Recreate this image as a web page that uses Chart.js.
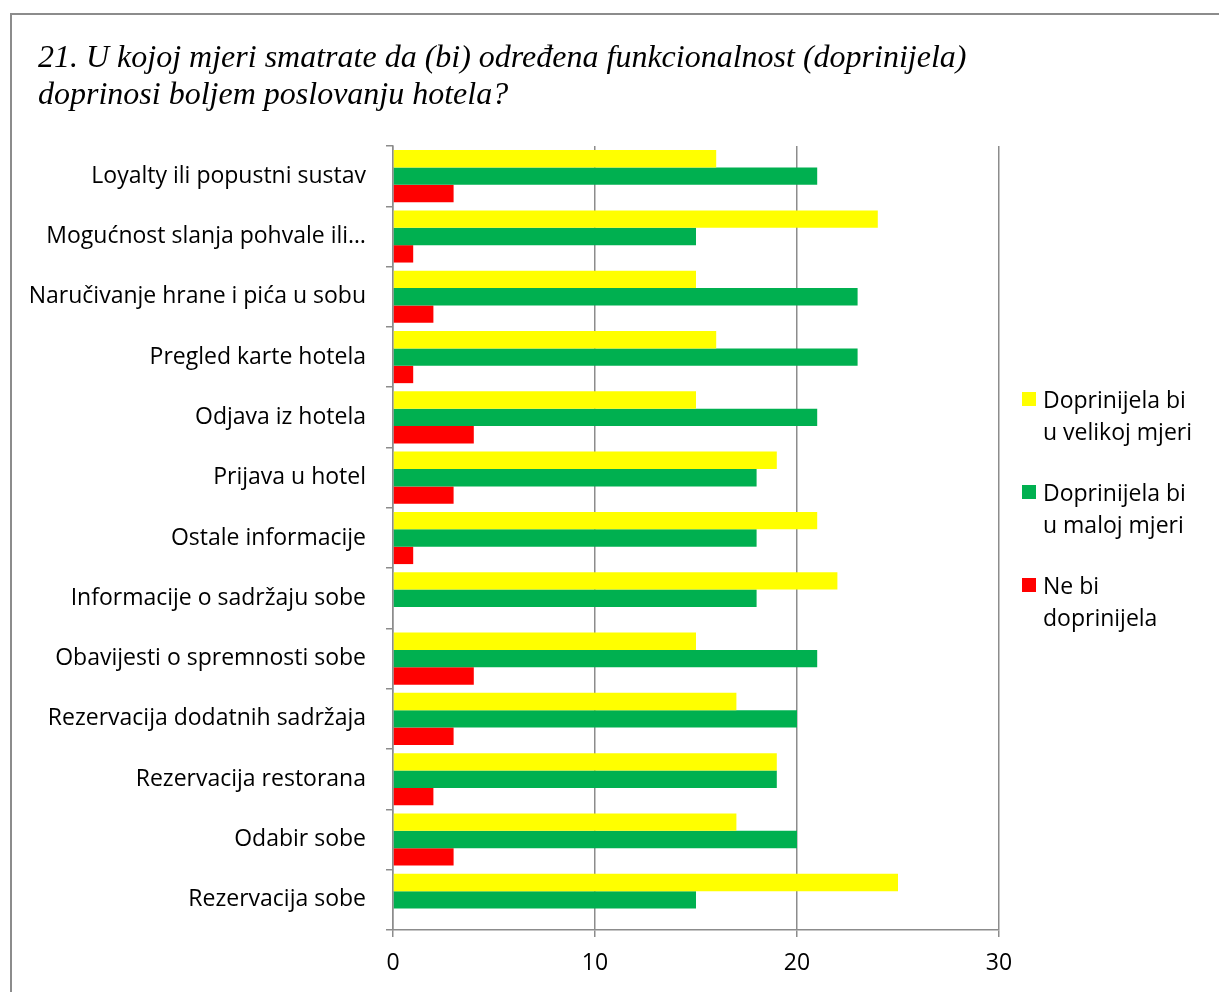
<!DOCTYPE html>
<html>
<head>
<meta charset="utf-8">
<script src="https://cdn.jsdelivr.net/npm/chart.js@4/dist/chart.umd.min.js"></script>
<style>
    body { margin: 0; background: #fff; }
    #wrap { position: relative; width: 1219px; height: 992px; overflow: hidden; }
    #frame { position: absolute; left: 10px; top: 13px; width: 1230px; height: 1000px; border: 2px solid #8c8c8c; box-sizing: border-box; }
    #title { position: absolute; left: 38px; top: 38px; font-family: "Liberation Serif", serif; font-style: italic; font-size: 32px; line-height: 37px; color: #000; }
    #legend { position: absolute; left: 1022px; top: 383px; font-family: "Open Sans", sans-serif; font-size: 23px; line-height: 32px; color: #000; }
    #legend .item { position: relative; padding-left: 21px; white-space: pre-line; margin-bottom: 29px; }
    #legend .box { position: absolute; left: 0; top: 9px; width: 14px; height: 14px; }
    canvas { position: absolute; left: 0; top: 0; }
</style>
</head>
<body>
<div id="wrap">
    <div id="frame"></div>
    <canvas id="chart" width="1219" height="992"></canvas>
    <div id="title">21. U kojoj mjeri smatrate da (bi) određena funkcionalnost (doprinijela)<br>doprinosi boljem poslovanju hotela?</div>
    <div id="legend"></div>
</div>
<script>
var categories = [
    "Loyalty ili popustni sustav",
    "Mogućnost slanja pohvale ili…",
    "Naručivanje hrane i pića u sobu",
    "Pregled karte hotela",
    "Odjava iz hotela",
    "Prijava u hotel",
    "Ostale informacije",
    "Informacije o sadržaju sobe",
    "Obavijesti o spremnosti sobe",
    "Rezervacija dodatnih sadržaja",
    "Rezervacija restorana",
    "Odabir sobe",
    "Rezervacija sobe"
];
var velikoj = [16, 24, 15, 16, 15, 19, 21, 22, 15, 17, 19, 17, 25];
var maloj   = [21, 15, 23, 23, 21, 18, 18, 18, 21, 20, 19, 20, 15];
var neBi    = [3, 1, 2, 1, 4, 3, 1, 0, 4, 3, 2, 3, 0];
var seriesNames = ["Doprinijela bi\nu velikoj mjeri", "Doprinijela bi\nu maloj mjeri", "Ne bi\ndoprinijela"];
var xTicks = [0, 10, 20, 30];

var axisGray = "#8c8c8c";

var ctx = document.getElementById("chart").getContext("2d");
var myChart = new Chart(ctx, {
    type: "bar",
    data: {
        labels: categories,
        datasets: [
            { label: seriesNames[0], data: velikoj, backgroundColor: "#ffff00" },
            { label: seriesNames[1], data: maloj, backgroundColor: "#00b050" },
            { label: seriesNames[2], data: neBi, backgroundColor: "#ff0000" }
        ]
    },
    options: {
        indexAxis: "y",
        responsive: false,
        animation: false,
        categoryPercentage: 0.865,
        barPercentage: 1,
        layout: { padding: { left: 0, right: 220, top: 146, bottom: 0 } },
        plugins: {
            legend: { display: false },
            tooltip: { enabled: false },
            title: { display: false }
        },
        scales: {
            x: {
                min: xTicks[0],
                max: xTicks[xTicks.length - 1],
                afterBuildTicks: function(scale) {
                    scale.ticks = xTicks.map(function(v) { return { value: v }; });
                },
                afterFit: function(scale) { scale.height = 62; },
                grid: { color: axisGray, lineWidth: 1.5, tickLength: 7 },
                border: { display: true, color: axisGray, width: 1.5 },
                ticks: { color: "#000", padding: 13, font: { family: "Open Sans", size: 23 } }
            },
            y: {
                afterFit: function(scale) { scale.width = 393; },
                grid: { drawOnChartArea: false, offset: true, color: axisGray, lineWidth: 1.5, tickLength: 7 },
                border: { display: true, color: axisGray, width: 1.5 },
                ticks: { color: "#000", padding: 20, font: { family: "Open Sans", size: 23 } }
            }
        }
    }
});

myChart.data.datasets.forEach(function(ds) {
    var item = document.createElement("div");
    item.className = "item";
    var box = document.createElement("span");
    box.className = "box";
    box.style.background = ds.backgroundColor;
    item.appendChild(box);
    item.appendChild(document.createTextNode(ds.label));
    document.getElementById("legend").appendChild(item);
});
</script>
</body>
</html>
